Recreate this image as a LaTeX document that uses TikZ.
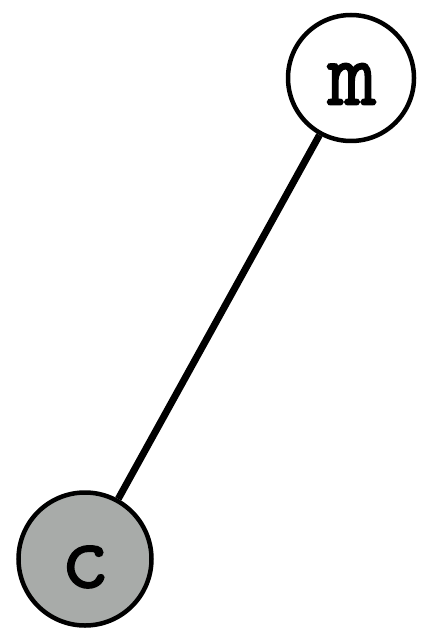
\documentclass[tikz,border=0pt]{standalone}
\usepackage{fontspec}
\newfontfamily\lblfont[FakeBold=1.5]{Latin Modern Mono}
\begin{document}
\begin{tikzpicture}[x=1pt,y=-1pt,
  vertex/.style={circle,draw=black,line width=4.5pt,minimum size=126pt,inner sep=0pt},
  lbl/.style={font=\lblfont\fontsize{95}{97}\selectfont,inner sep=0pt},
  edge/.style={line width=7pt}]
\useasboundingbox (0,0) rectangle (427,628);
\node[vertex,fill=white] (m) at (351,78) {};
\node[vertex,fill={rgb,255:red,168;green,171;blue,169},minimum size=133pt] (c) at (85,559) {};
\node[lbl] (mt) at (352,84) {m};
\node[lbl] (ct) at (85,567) {c};
\draw[edge] (m) -- (c);
\end{tikzpicture}
\end{document}
